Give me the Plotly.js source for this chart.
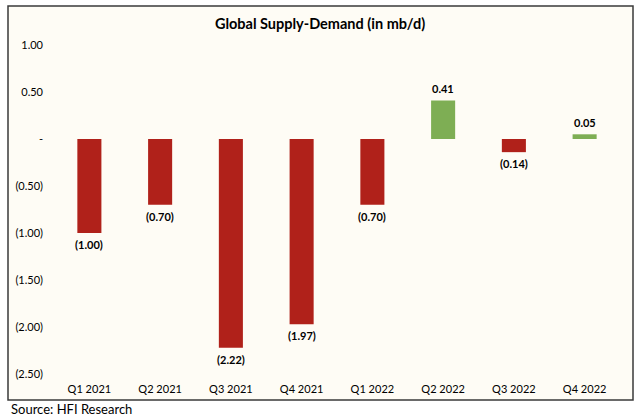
<!DOCTYPE html>
<html>
<head>
<meta charset="utf-8">
<script src="https://cdn.plot.ly/plotly-3.0.1.min.js"></script>
<style>html,body{margin:0;padding:0;background:#fff;}#chart{width:640px;height:420px;}</style>
</head>
<body>
<div id="chart"></div>
<script>
const categories = ["Q1 2021","Q2 2021","Q3 2021","Q4 2021","Q1 2022","Q2 2022","Q3 2022","Q4 2022"];
const values = [-1.00, -0.70, -2.22, -1.97, -0.70, 0.41, -0.14, 0.05];
const yTickVals = [1.0, 0.5, 0, -0.5, -1.0, -1.5, -2.0, -2.5];
const yTickText = ["1.00","0.50","-","(0.50)","(1.00)","(1.50)","(2.00)","(2.50)"];

const fmt = v => v < 0 ? "(" + Math.abs(v).toFixed(2) + ")" : v.toFixed(2);
const RED = "#B0211A", GREEN = "#7EAE54";
const FONT = "Lato, 'Open Sans', sans-serif";

const trace = {
  type: "bar",
  x: categories,
  y: values,
  marker: {color: values.map(v => v < 0 ? RED : GREEN), line: {width: 0}},
  cliponaxis: false,
  hoverinfo: "none"
};

const L = 54, R = 20, T = 45, B = 46;
const W = 640 - L - R, H = 420 - T - B;
const px = x => (x - L) / W;
const py = y => (420 - B - y) / H;

const labelAnns = categories.map((c, i) => ({
  x: c, y: values[i], xref: "x", yref: "y",
  text: "<b>" + fmt(values[i]) + "</b>",
  showarrow: false,
  yanchor: values[i] < 0 ? "top" : "bottom",
  yshift: values[i] < 0 ? -3 : 3,
  font: {family: FONT, size: 11, color: "#000"}
}));

const layout = {
  width: 640, height: 420,
  margin: {l: L, r: R, t: T, b: B, pad: 0},
  paper_bgcolor: "#ffffff",
  plot_bgcolor: "rgba(0,0,0,0)",
  showlegend: false,
  bargap: 0.66,
  font: {family: FONT, size: 11, color: "#000"},
  title: {text: "<b>Global Supply-Demand (in mb/d)</b>", font: {family: FONT, size: 14.5, color: "#000"},
          x: 0.5, xref: "container", xanchor: "center", y: 1 - 24/420, yanchor: "middle"},
  xaxis: {showgrid: false, zeroline: false, showline: false, ticks: "",
          ticklabelstandoff: 7,
          tickfont: {family: FONT, size: 11, color: "#000"}, fixedrange: true},
  yaxis: {range: [-2.5, 1.0], tickvals: yTickVals, ticktext: yTickText,
          showgrid: false, zeroline: false, showline: false, ticks: "",
          ticklabelstandoff: 10,
          tickfont: {family: FONT, size: 11, color: "#000"}, fixedrange: true},
  shapes: [{type: "rect", xref: "paper", yref: "paper", layer: "below",
            x0: px(8), x1: px(633), y0: py(400), y1: py(6),
            fillcolor: "#FEFCF5", line: {color: "#3a3a3a", width: 1.5}}],
  annotations: labelAnns.concat([{text: "Source: HFI Research", xref: "paper", yref: "paper",
                 x: px(9), y: py(409), xanchor: "left", yanchor: "middle", showarrow: false,
                 font: {family: FONT, size: 13, color: "#000"}}])
};

Plotly.newPlot("chart", [trace], layout, {staticPlot: true, displayModeBar: false});
</script>
</body>
</html>
